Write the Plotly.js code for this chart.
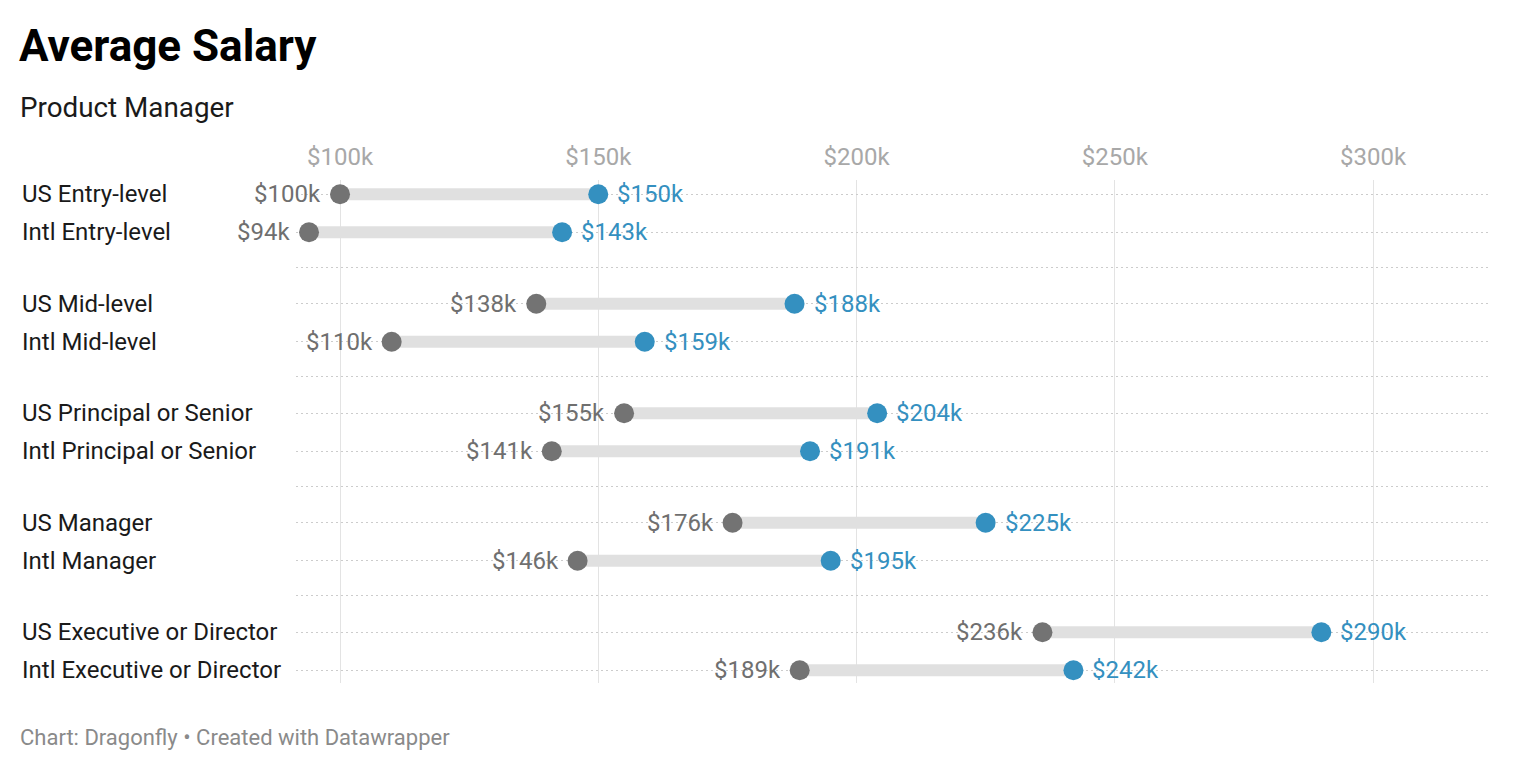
<!DOCTYPE html>
<html>
<head>
<meta charset="utf-8">
<script src="https://cdn.plot.ly/plotly-3.0.1.min.js"></script>
<style>
  html, body { margin: 0; padding: 0; background: #fff; }
  #chart { width: 1532px; height: 770px; }
</style>
</head>
<body>
<div id="chart"></div>
<script>
// ---- data ----
const categories = [
  "US Entry-level", "Intl Entry-level",
  "US Mid-level", "Intl Mid-level",
  "US Principal or Senior", "Intl Principal or Senior",
  "US Manager", "Intl Manager",
  "US Executive or Director", "Intl Executive or Director"
];
const lowValues  = [100, 94, 138, 110, 155, 141, 176, 146, 236, 189];
const highValues = [150, 143, 188, 159, 204, 191, 225, 195, 290, 242];
const tickValues = [100, 150, 200, 250, 300];
const tickLabels = ["$100k", "$150k", "$200k", "$250k", "$300k"];

// ---- layout helpers ----
const W = 1532, H = 770;
const plotL = 296, plotR = 1490, plotT = 180, plotB = 683;
const FONT = "Roboto, 'Noto Sans', sans-serif";
const GREY = "#737373", BLUE = "#3490c0";

// row positions: pairs grouped with a gap row between groups
const rowY = categories.map((c, i) => Math.floor(i / 2) * 3 + (i % 2) * 1.04);
const sepY = [];
for (let g = 0; g < categories.length / 2 - 1; g++) sepY.push(g * 3 + 2);
const gridY = rowY.concat(sepY).sort((a, b) => a - b);

const px2paperX = px => (px - plotL) / (plotR - plotL);
const py2paperY = py => (plotB - py) / (plotB - plotT);

// connector lines
const lx = [], ly = [];
categories.forEach((c, i) => { lx.push(lowValues[i], highValues[i], null); ly.push(rowY[i], rowY[i], null); });

const traces = [
  { type: "scatter", mode: "lines", x: lx, y: ly, line: { color: "#e0e0e0", width: 12 }, hoverinfo: "skip", showlegend: false },
  { type: "scatter", mode: "markers", x: lowValues, y: rowY, marker: { color: GREY, size: 20 }, hoverinfo: "x", showlegend: false },
  { type: "scatter", mode: "markers", x: highValues, y: rowY, marker: { color: BLUE, size: 20 }, hoverinfo: "x", showlegend: false }
];

const annotations = [];
categories.forEach((c, i) => {
  annotations.push({ xref: "paper", yref: "y", x: px2paperX(20), y: rowY[i], xanchor: "left", yanchor: "middle",
    text: c, showarrow: false, font: { family: FONT, size: 24, color: "#1a1a1a" } });
  annotations.push({ xref: "x", yref: "y", x: lowValues[i], y: rowY[i], xanchor: "right", yanchor: "middle", xshift: -17,
    text: "$" + lowValues[i] + "k", showarrow: false, font: { family: FONT, size: 24, color: "#6f6f6f" } });
  annotations.push({ xref: "x", yref: "y", x: highValues[i], y: rowY[i], xanchor: "left", yanchor: "middle", xshift: 17,
    text: "$" + highValues[i] + "k", showarrow: false, font: { family: FONT, size: 24, color: BLUE } });
});
annotations.push({ xref: "paper", yref: "paper", x: px2paperX(18), y: py2paperY(107), xanchor: "left", yanchor: "middle",
  text: "Product Manager", showarrow: false, font: { family: FONT, size: 27.8, color: "#1a1a1a" } });
annotations.push({ xref: "paper", yref: "paper", x: px2paperX(18), y: py2paperY(737), xanchor: "left", yanchor: "middle",
  text: "Chart: Dragonfly • Created with Datawrapper", showarrow: false, font: { family: FONT, size: 22, color: "#8a8a8a" } });

const layout = {
  width: W, height: H,
  margin: { l: plotL, r: W - plotR, t: plotT, b: H - plotB, pad: 0 },
  paper_bgcolor: "#fff", plot_bgcolor: "#fff",
  title: { text: "<b>Average Salary</b>", xref: "container", yref: "container", x: 19 / W, xanchor: "left",
    y: 1 - 46 / H, yanchor: "middle", font: { family: FONT, size: 44, color: "#000" } },
  xaxis: {
    side: "top", range: [91.48, 322.65], tickvals: tickValues, ticktext: tickLabels,
    showgrid: true, gridcolor: "#e3e3e3", gridwidth: 1, zeroline: false, showline: false,
    ticks: "outside", ticklen: 4, tickcolor: "rgba(0,0,0,0)",
    tickfont: { family: FONT, size: 24, color: "#a8a8a8" }, fixedrange: true
  },
  yaxis: {
    range: [13.39, -0.39], tickvals: gridY, showticklabels: false,
    showgrid: true, gridcolor: "#cccccc", gridwidth: 1, griddash: "2px,3px", zeroline: false, showline: false,
    ticks: "", fixedrange: true
  },
  annotations: annotations,
  showlegend: false,
  hovermode: "closest"
};

Plotly.newPlot("chart", traces, layout, { displayModeBar: false });
</script>
</body>
</html>
